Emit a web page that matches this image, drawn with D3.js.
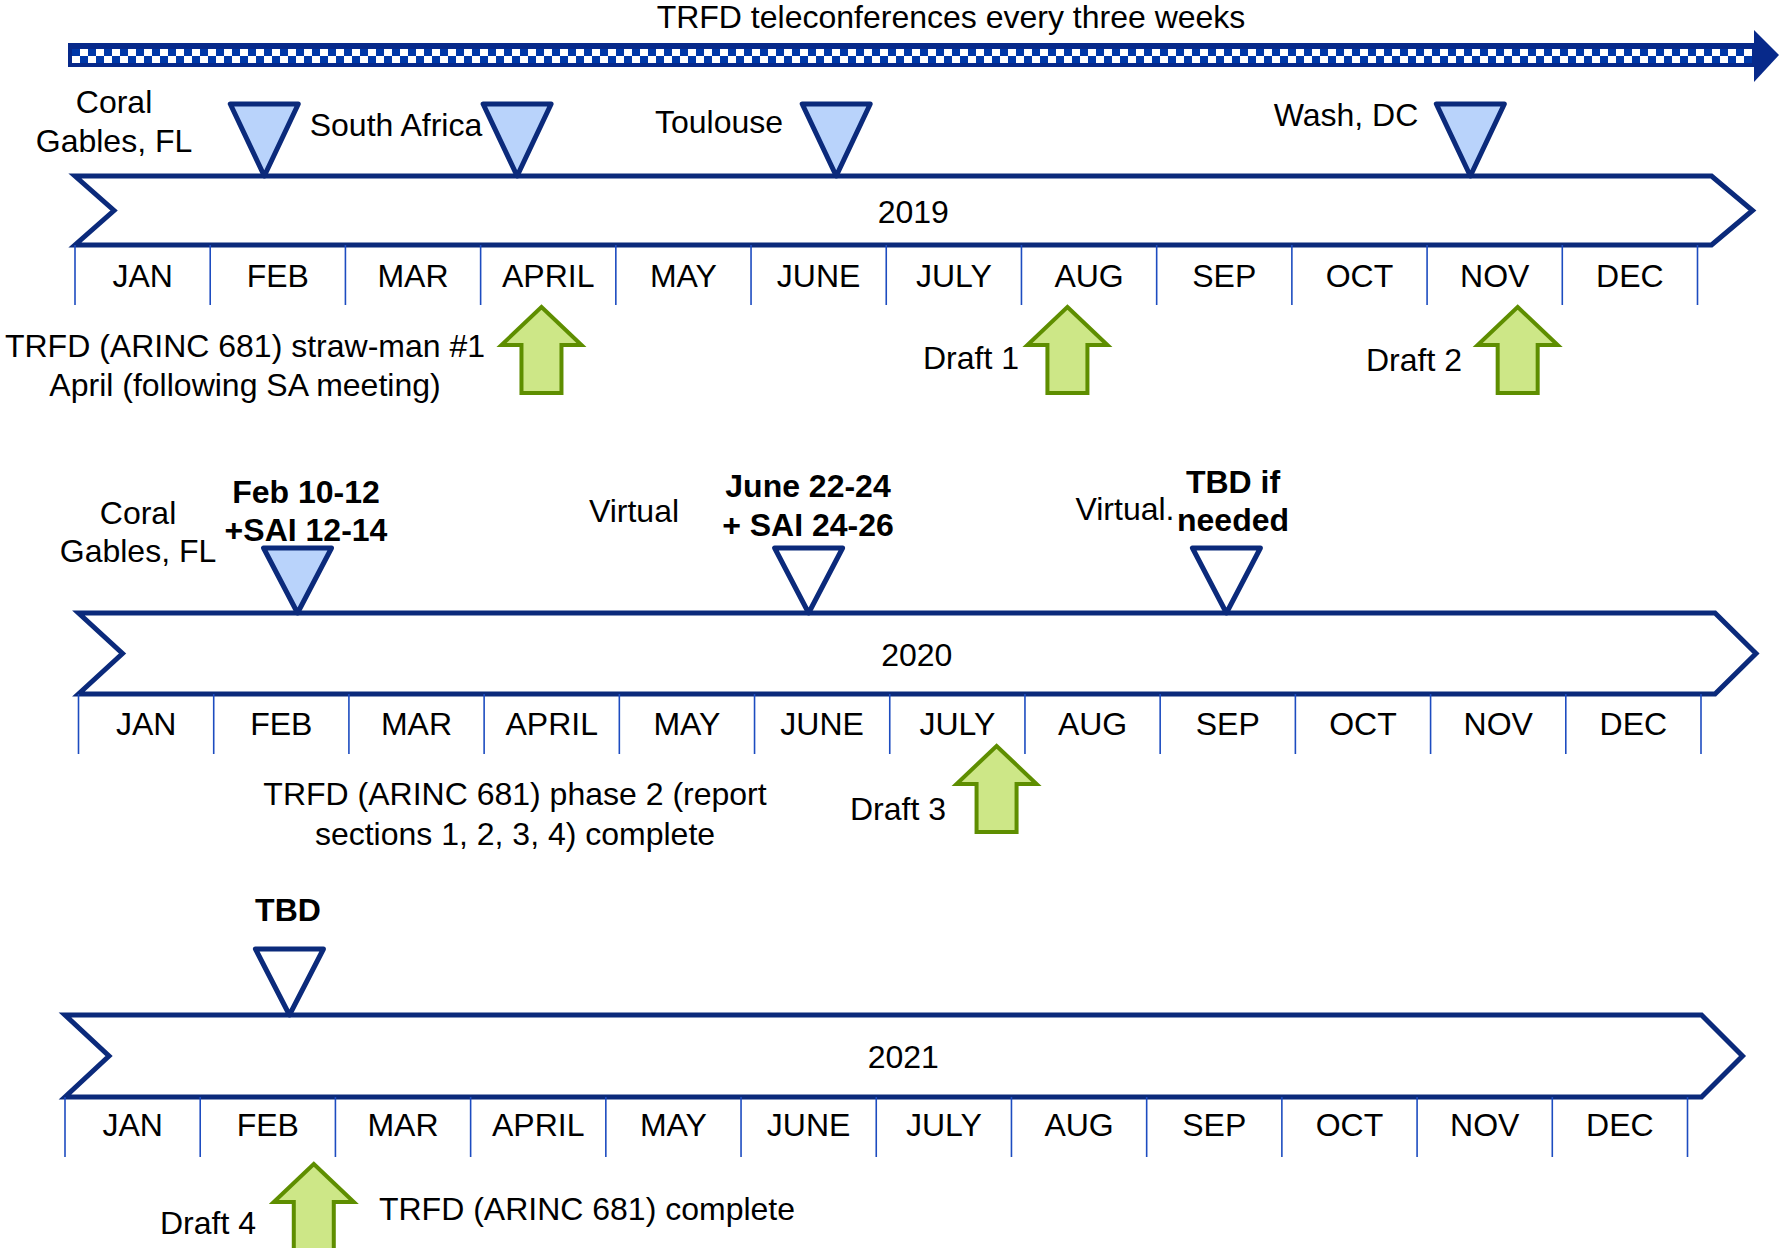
<!DOCTYPE html>
<html>
<head>
<meta charset="utf-8">
<script src="https://cdn.jsdelivr.net/npm/d3@7"></script>
<style>
  body { margin: 0; background: #fff; }
  text { font-family: "Liberation Sans", Arial, sans-serif; font-size: 32px; fill: #000; }
</style>
</head>
<body>
<div id="chart"></div>
<script>
// ---------- data ----------
var years = ["2019", "2020", "2021"];
var months = ["JAN", "FEB", "MAR", "APRIL", "MAY", "JUNE", "JULY", "AUG", "SEP", "OCT", "NOV", "DEC"];
var bannerText = "TRFD teleconferences every three weeks";

// meetings: position in months from start of year, confirmed = filled marker
var meetings = [
    {year: "2019", month: 1.40, confirmed: true},
    {year: "2019", month: 3.27, confirmed: true},
    {year: "2019", month: 5.63, confirmed: true},
    {year: "2019", month: 10.32, confirmed: true},
    {year: "2020", month: 1.62, confirmed: true},
    {year: "2020", month: 5.40, confirmed: false},
    {year: "2020", month: 8.49, confirmed: false},
    {year: "2021", month: 1.66, confirmed: false}
];

// document drafts (green arrows)
var drafts = [
    {year: "2019", month: 3.45},
    {year: "2019", month: 7.34},
    {year: "2019", month: 10.67},
    {year: "2020", month: 6.79},
    {year: "2021", month: 1.84}
];

// annotation texts
var notes = [
    ["Coral", "Gables, FL"],
    ["South Africa"],
    ["Toulouse"],
    ["Wash, DC"],
    ["TRFD (ARINC 681) straw-man #1", "April (following SA meeting)"],
    ["Draft 1"],
    ["Draft 2"],
    ["Coral", "Gables, FL"],
    ["Feb 10-12", "+SAI 12-14"],
    ["Virtual"],
    ["June 22-24", "+ SAI 24-26"],
    ["Virtual."],
    ["TBD if", "needed"],
    ["TRFD (ARINC 681) phase 2 (report", "sections 1, 2, 3, 4) complete"],
    ["Draft 3"],
    ["TBD"],
    ["Draft 4"],
    ["TRFD (ARINC 681) complete"]
];

// ---------- layout ----------
var width = 1784, height = 1248;
var span = 1622.5;

var rows = {
    "2019": {x0: 75,   top: 176,  bottom: 245,  tickEnd: 305,  monthY: 276,  yearY: 212,  triTop: 104, arrowTip: 307,  notch: 39},
    "2020": {x0: 78.5, top: 613,  bottom: 694,  tickEnd: 754,  monthY: 724,  yearY: 655,  triTop: 548, arrowTip: 746,  notch: 44},
    "2021": {x0: 65,   top: 1015, bottom: 1097, tickEnd: 1157, monthY: 1125, yearY: 1057, triTop: 949, arrowTip: 1164, notch: 44}
};

var notePos = [
    {x: 114, y: 102, gap: 39}, {x: 396, y: 125}, {x: 719, y: 122}, {x: 1346, y: 115},
    {x: 245, y: 346, gap: 39}, {x: 971, y: 358}, {x: 1414, y: 360},
    {x: 138, y: 513, gap: 38}, {x: 306, y: 492, gap: 38, bold: true}, {x: 634, y: 511},
    {x: 808, y: 486, gap: 39, bold: true}, {x: 1125, y: 509}, {x: 1233, y: 482, gap: 38, bold: true},
    {x: 515, y: 794, gap: 40}, {x: 898, y: 809},
    {x: 288, y: 910, bold: true}, {x: 208, y: 1223}, {x: 587, y: 1209}
];

var navy = "#0b2a7b";
var tickBlue = "#1d4cc0";
var triFill = "#b9d3fb";
var greenFill = "#cde787";
var greenStroke = "#5e8e00";

var svg = d3.select("#chart").append("svg")
    .attr("width", width)
    .attr("height", height);

// checker pattern for the teleconference band
var defs = svg.append("defs");
var pat = defs.append("pattern")
    .attr("id", "checker")
    .attr("patternUnits", "userSpaceOnUse")
    .attr("x", 72).attr("y", 49)
    .attr("width", 16).attr("height", 14);
pat.append("rect").attr("width", 16).attr("height", 14).attr("fill", "#fff");
pat.append("rect").attr("x", 0).attr("y", 0).attr("width", 8).attr("height", 7).attr("fill", "#0038a8");
pat.append("rect").attr("x", 8).attr("y", 7).attr("width", 8).attr("height", 7).attr("fill", "#0038a8");

/* ****** Banner ****** */
svg.append("text")
    .attr("x", 951).attr("y", 17)
    .attr("dy", "0.35em")
    .attr("text-anchor", "middle")
    .text(bannerText);

var band = svg.append("g");
band.append("rect")
    .attr("x", 68).attr("y", 43)
    .attr("width", 1688).attr("height", 24)
    .attr("fill", "#07298a");
band.append("rect")
    .attr("x", 72).attr("y", 49)
    .attr("width", 1680).attr("height", 14)
    .attr("fill", "url(#checker)");
band.append("path")
    .attr("d", "M1754,30 L1779,55 L1754,82 Z")
    .attr("fill", "#07298a");

/* ****** Year rows ****** */
years.forEach(function (yr) {
    var r = rows[yr];
    var x = d3.scaleLinear().domain([0, 12]).range([r.x0, r.x0 + span]);
    var g = svg.append("g").attr("class", "row-" + yr);
    var mid = (r.top + r.bottom) / 2;
    var bodyEnd = x(12) + 14;

    // chevron
    g.append("path")
        .attr("d", "M" + x(0) + "," + r.top +
            " L" + bodyEnd + "," + r.top +
            " L" + (bodyEnd + 41) + "," + mid +
            " L" + bodyEnd + "," + r.bottom +
            " L" + x(0) + "," + r.bottom +
            " L" + (x(0) + r.notch) + "," + mid + " Z")
        .attr("fill", "#fff")
        .attr("stroke", navy)
        .attr("stroke-width", 5);

    g.append("text")
        .attr("x", x(6) + 27).attr("y", r.yearY)
        .attr("dy", "0.35em")
        .attr("text-anchor", "middle")
        .text(yr);

    // month ticks and labels
    g.selectAll("line.tick")
        .data(d3.range(13))
        .enter().append("line")
        .attr("class", "tick")
        .attr("x1", function (d) { return x(d); })
        .attr("x2", function (d) { return x(d); })
        .attr("y1", r.bottom)
        .attr("y2", r.tickEnd)
        .attr("stroke", tickBlue)
        .attr("stroke-width", 1.6);

    g.selectAll("text.month")
        .data(months)
        .enter().append("text")
        .attr("class", "month")
        .attr("x", function (d, i) { return x(i + 0.5); })
        .attr("y", r.monthY)
        .attr("dy", "0.35em")
        .attr("text-anchor", "middle")
        .text(function (d) { return d; });

    // meeting markers
    var triH = r.top - r.triTop;
    g.selectAll("path.meeting")
        .data(meetings.filter(function (d) { return d.year === yr; }))
        .enter().append("path")
        .attr("class", "meeting")
        .attr("d", function (d) {
            var cx = x(d.month);
            return "M" + (cx - 34) + "," + r.triTop +
                " L" + (cx + 34) + "," + r.triTop +
                " L" + cx + "," + (r.triTop + triH) + " Z";
        })
        .attr("fill", function (d) { return d.confirmed ? triFill : "#fff"; })
        .attr("stroke", navy)
        .attr("stroke-width", 5)
        .attr("stroke-linejoin", "round");

    // draft arrows
    g.selectAll("path.draft")
        .data(drafts.filter(function (d) { return d.year === yr; }))
        .enter().append("path")
        .attr("class", "draft")
        .attr("d", function (d) {
            var cx = x(d.month), t = r.arrowTip;
            return "M" + cx + "," + t +
                " L" + (cx + 40) + "," + (t + 38) +
                " L" + (cx + 20) + "," + (t + 38) +
                " L" + (cx + 20) + "," + (t + 86) +
                " L" + (cx - 20) + "," + (t + 86) +
                " L" + (cx - 20) + "," + (t + 38) +
                " L" + (cx - 40) + "," + (t + 38) + " Z";
        })
        .attr("fill", greenFill)
        .attr("stroke", greenStroke)
        .attr("stroke-width", 4);
});

/* ****** Notes ****** */
notes.forEach(function (lines, i) {
    var p = notePos[i];
    var t = svg.append("text")
        .attr("text-anchor", "middle")
        .style("font-weight", p.bold ? "bold" : "normal");
    lines.forEach(function (line, j) {
        t.append("tspan")
            .attr("x", p.x)
            .attr("y", p.y + j * (p.gap || 0))
            .attr("dy", "0.35em")
            .text(line);
    });
});
</script>
</body>
</html>
